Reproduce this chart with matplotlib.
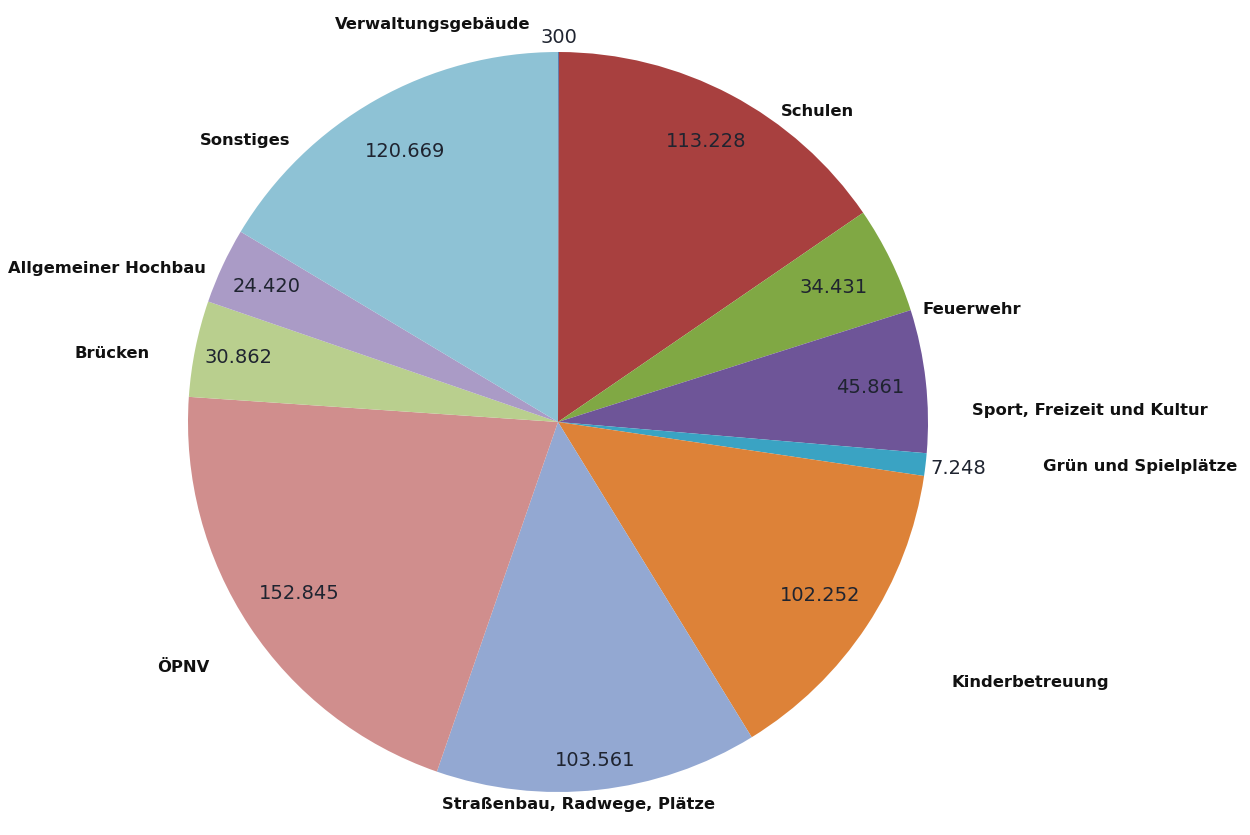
import matplotlib
matplotlib.use("Agg")
import matplotlib.pyplot as plt
import numpy as np

# Investitionen nach Bereichen (Werte in Tsd. EUR)
categories = [
    "Verwaltungsgebäude", "Schulen", "Feuerwehr", "Sport, Freizeit und Kultur",
    "Grün und Spielplätze", "Kinderbetreuung", "Straßenbau, Radwege, Plätze",
    "ÖPNV", "Brücken", "Allgemeiner Hochbau", "Sonstiges",
]
values = [300, 113228, 34431, 45861, 7248, 102252, 103561, 152845, 30862, 24420, 120669]
value_labels = ["300", "113.228", "34.431", "45.861", "7.248", "102.252",
                "103.561", "152.845", "30.862", "24.420", "120.669"]

colors = ["#4B77B0", "#A8403F", "#80A844", "#6E5598", "#3AA3C3", "#DD8238",
          "#93A8D2", "#D08E8D", "#B9CF8E", "#AA9BC6", "#8EC2D5"]

# layout (pixel space, y measured from top)
W, H = 1250, 835
cx, cy, R = 558, 422, 370
value_radius = [1.04, 0.856, 0.83, 0.85, 1.09, 0.85, 0.92, 0.84, 0.88, 0.87, 0.84]
label_pos = [(433, 24), (817, 112), (972, 310), (1090, 410), (1140, 466),
             (1030, 683), (578, 805), (183, 667), (112, 354), (107, 268), (245, 140)]

fig = plt.figure(figsize=(12.5, 8.35), dpi=100)
ax = fig.add_axes([0, 0, 1, 1])
ax.axis("off")

wedges, _ = ax.pie(values, colors=colors, startangle=90, counterclock=False,
                   center=(cx, H - cy), radius=R,
                   wedgeprops=dict(linewidth=0))
ax.set_xlim(0, W)
ax.set_ylim(0, H)
ax.set_aspect("equal")

for w, txt, rf in zip(wedges, value_labels, value_radius):
    mid = np.deg2rad((w.theta1 + w.theta2) / 2)
    x = cx + R * rf * np.cos(mid)
    y = (H - cy) + R * rf * np.sin(mid)
    ax.text(x, y, txt, ha="center", va="center", fontsize=14,
            color="#1f2430", family="DejaVu Sans")

for name, (lx, ly) in zip(categories, label_pos):
    ax.text(lx, H - ly, name, ha="center", va="center", fontsize=11.8,
            fontweight="bold", color="#111111", family="DejaVu Sans")

fig.savefig("out.png", dpi=100, facecolor="white")
